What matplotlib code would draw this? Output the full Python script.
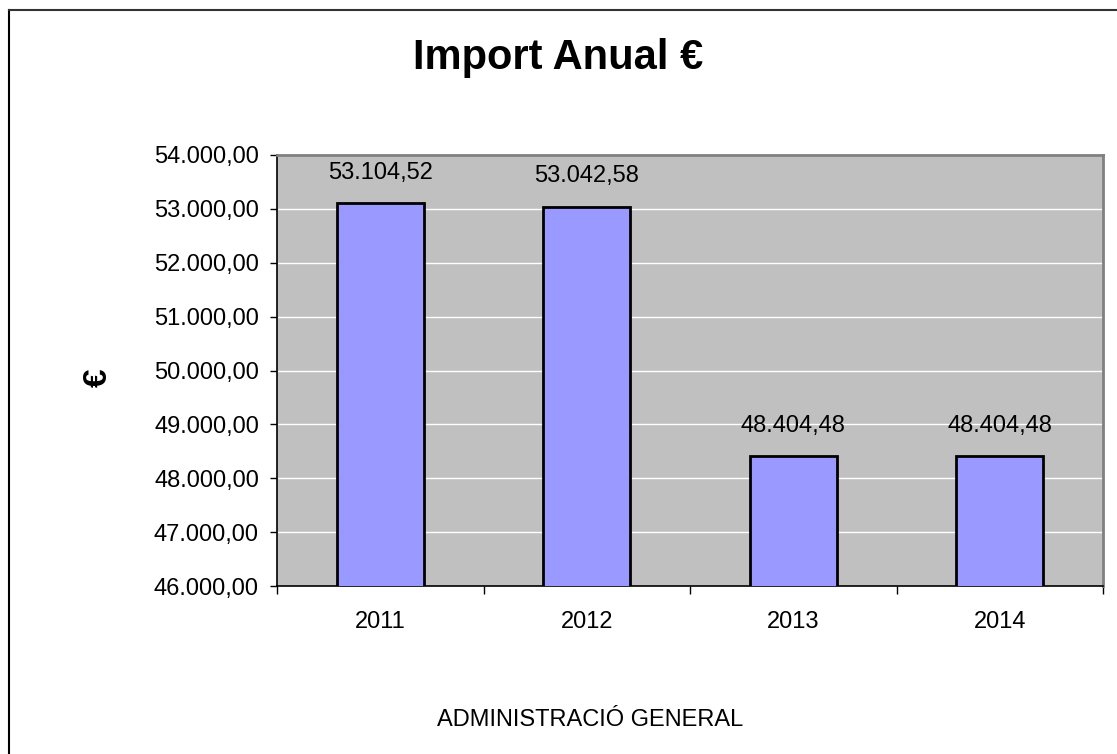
import matplotlib.pyplot as plt
from matplotlib.lines import Line2D
import numpy as np

# dades del grafic
years = ['2011', '2012', '2013', '2014']
amounts = [53104.52, 53042.58, 48404.48, 48404.48]
y_ticks = [46000, 47000, 48000, 49000, 50000, 51000, 52000, 53000, 54000]


def euro_fmt(v):
    s = f'{v:,.2f}'
    return s.replace(',', 'X').replace('.', ',').replace('X', '.')


plt.rcParams['font.family'] = ['Liberation Sans', 'DejaVu Sans']

fig = plt.figure(figsize=(11.17, 7.54), dpi=100)
ax = fig.add_axes([277 / 1117, 1 - 586 / 754, (1103 - 277) / 1117, (586 - 155) / 754])
ax.set_facecolor('#C0C0C0')

x = np.arange(len(years))
bars = ax.bar(x, amounts, width=0.42, color='#9999FF', edgecolor='black',
              linewidth=2, zorder=3)

ax.set_ylim(46000, 54000)
ax.set_xlim(-0.5, len(years) - 0.5)
ax.set_yticks(y_ticks)
ax.set_yticklabels([euro_fmt(v) for v in y_ticks], fontsize=17)
ax.grid(axis='y', color='white', linewidth=1, zorder=1)

ax.set_xticks(x)
ax.set_xticklabels(years, fontsize=17)
ax.set_xticks(np.arange(len(years) + 1) - 0.5, minor=True)
ax.tick_params(axis='x', which='major', length=0, pad=18)
ax.tick_params(axis='x', which='minor', length=6, width=1, direction='out')
ax.tick_params(axis='y', length=5, width=1, direction='out', pad=8)

for side in ['left', 'bottom']:
    ax.spines[side].set_color('black')
    ax.spines[side].set_linewidth(1.2)
for side in ['top', 'right']:
    ax.spines[side].set_color('#808080')
    ax.spines[side].set_linewidth(2)

for bar, val in zip(bars, amounts):
    ax.annotate(euro_fmt(val), (bar.get_x() + bar.get_width() / 2, val),
                xytext=(0, 14), textcoords='offset points',
                ha='center', va='bottom', fontsize=17)

fig.text(0.5, 1 - 58 / 754, 'Import Anual €', ha='center', va='center',
         fontsize=30, fontweight='bold')
fig.text(590 / 1117, 1 - 720 / 754, 'ADMINISTRACIÓ GENERAL', ha='center',
         va='center', fontsize=17)
fig.text(98 / 1117, 1 - 378 / 754, '€', ha='center', va='center',
         fontsize=24, fontweight='bold', rotation=90)

# marc exterior
fig.add_artist(Line2D([9 / 1117, 9 / 1117], [0, 1 - 10 / 754], color='black',
                      linewidth=1.5, transform=fig.transFigure))
fig.add_artist(Line2D([9 / 1117, 1], [1 - 10 / 754, 1 - 10 / 754], color='#333333',
                      linewidth=1.5, transform=fig.transFigure))

plt.savefig('out.png', dpi=100)
